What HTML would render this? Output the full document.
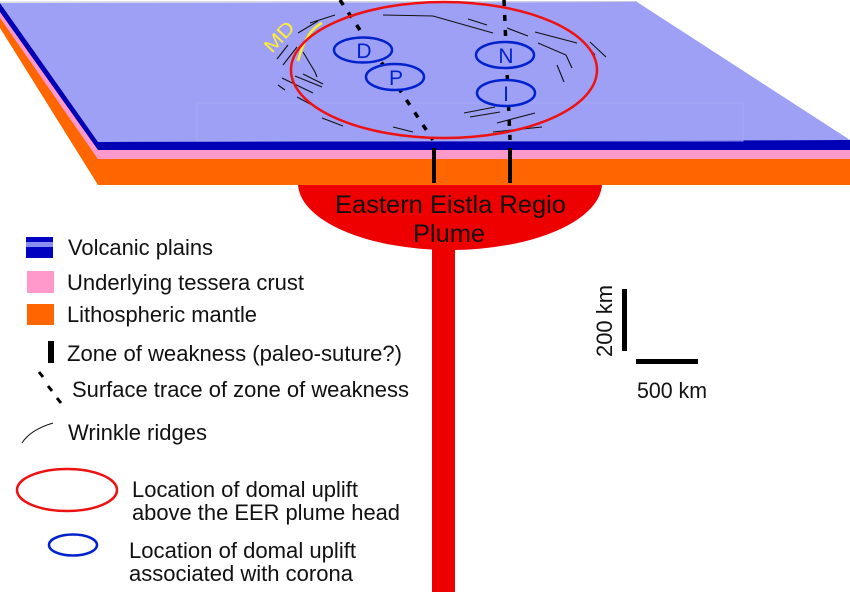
<!DOCTYPE html>
<html><head><meta charset="utf-8"><style>
html,body{margin:0;padding:0;background:#fff;}
svg{display:block;}
text{font-family:"Liberation Sans",Arial,sans-serif;fill:#111;}
</style></head><body>
<svg width="850" height="592" viewBox="0 0 850 592" xmlns="http://www.w3.org/2000/svg">
<!-- plume -->
<rect x="432" y="230" width="23" height="362" fill="#ee0000"/>
<ellipse cx="450" cy="183" rx="152" ry="67" fill="#ee0000"/>
<!-- slab: orange -->
<polygon points="0,17 98,159 850,159 850,185 98,185 0,28" fill="#ff6600"/>
<!-- pink -->
<polygon points="0,11 98,150 850,150 850,159 98,159 0,18" fill="#ff99cc"/>
<!-- blue -->
<polygon points="0,3 98,141 850,140 850,150 98,150 0,12" fill="#0000b4"/>
<!-- top face -->
<polygon points="0,3 637,2 850,140 98,142" fill="#9da0f5"/>
<line x1="0" y1="2" x2="637" y2="1.5" stroke="#c8c8d8" stroke-width="1"/>
<rect x="197" y="103" width="546" height="38" fill="none" stroke="#a9acf7" stroke-width="0.8"/>

<!-- dashed surface traces -->
<line x1="340" y1="0" x2="433" y2="140" stroke="#000" stroke-width="3.5" stroke-dasharray="6,9"/>
<line x1="504" y1="0" x2="510" y2="140" stroke="#000" stroke-width="3.5" stroke-dasharray="6,9"/>

<!-- wrinkle ridges -->
<g stroke="#111" stroke-width="1.1" fill="none">
<path d="M298,33 L318,21"/>
<path d="M310,23 L335,15"/>
<path d="M277,59 L288,45"/>
<path d="M283,65 L297,47"/>
<path d="M303,52 L312,67 L315,72 L317,77"/>
<path d="M282,78 L313,93"/>
<path d="M295,76 L322,87"/>
<path d="M303,74 L323,84"/>
<path d="M278,85 L285,90"/>
<path d="M297,97 L312,105"/>
<path d="M322,118 L343,126"/>
<path d="M383,15 L433,16 L493,33"/>
<path d="M468,19 L487,25"/>
<path d="M507,28 L528,36"/>
<path d="M535,32 L577,43"/>
<path d="M538,43 L566,55 L572,68"/>
<path d="M557,65 L564,82"/>
<path d="M590,42 L606,57"/>
<path d="M588,47 L595,55"/>
<path d="M464,113 L495,107"/>
<path d="M470,117 L500,112"/>
<path d="M497,123 L535,113"/>
<path d="M493,132 L542,127"/>
<path d="M393,127 L413,132"/>
</g>

<!-- MD -->
<path d="M298,61 Q303,42 311,32 Q316,26 322,23" stroke="#ffee33" stroke-width="2.5" fill="none"/>
<text transform="translate(272,54) rotate(-47)" font-size="19" style="fill:#ffee33" textLength="35" lengthAdjust="spacingAndGlyphs">MD</text>

<!-- red ellipse -->
<ellipse cx="444" cy="70" rx="153" ry="68" fill="none" stroke="#ee1111" stroke-width="2.5"/>

<!-- blue ellipses -->
<g stroke="#0022cc" stroke-width="2.5" fill="#9da0f5">
<ellipse cx="363" cy="50" rx="29" ry="12.5"/>
<ellipse cx="395" cy="77" rx="29" ry="13"/>
<ellipse cx="505" cy="55" rx="29" ry="13"/>
<ellipse cx="506" cy="93" rx="29" ry="13"/>
</g>
<g font-size="21" text-anchor="middle">
<text x="364" y="58" style="fill:#0022cc">D</text>
<text x="396" y="85" style="fill:#0022cc">P</text>
<text x="506" y="63" style="fill:#0022cc">N</text>
<text x="506" y="101" style="fill:#0022cc">I</text>
</g>

<!-- zone of weakness verticals -->
<rect x="432" y="148" width="4" height="35" fill="#000"/>
<rect x="508" y="148" width="4" height="35" fill="#000"/>

<!-- plume label -->
<text x="335" y="213" font-size="25" textLength="231" lengthAdjust="spacingAndGlyphs">Eastern Eistla Regio</text>
<text x="413" y="242" font-size="25" textLength="72" lengthAdjust="spacingAndGlyphs">Plume</text>

<!-- legend -->
<rect x="26" y="237" width="27" height="21" fill="#0000c0"/>
<rect x="26" y="242" width="27" height="5" fill="#8a8cf0"/>
<text x="68" y="255" font-size="22.5" textLength="145" lengthAdjust="spacingAndGlyphs">Volcanic plains</text>

<rect x="27" y="271" width="27" height="22" fill="#ff99cc"/>
<text x="67" y="290" font-size="22.5" textLength="237" lengthAdjust="spacingAndGlyphs">Underlying tessera crust</text>

<rect x="27" y="304" width="27" height="21" fill="#ff6600"/>
<text x="67" y="322" font-size="22.5" textLength="190" lengthAdjust="spacingAndGlyphs">Lithospheric mantle</text>

<rect x="48" y="341" width="6" height="22" fill="#000"/>
<text x="67" y="361" font-size="22.5" textLength="335" lengthAdjust="spacingAndGlyphs">Zone of weakness (paleo-suture?)</text>

<g stroke="#000" stroke-width="3">
<line x1="39" y1="372" x2="43" y2="377"/>
<line x1="48" y1="386" x2="52" y2="391"/>
<line x1="57" y1="398" x2="61" y2="403"/>
</g>
<text x="72" y="397" font-size="22.5" textLength="337" lengthAdjust="spacingAndGlyphs">Surface trace of zone of weakness</text>

<path d="M22,443 Q30,430 53,423" stroke="#111" stroke-width="1" fill="none"/>
<text x="68" y="440" font-size="22.5" textLength="139" lengthAdjust="spacingAndGlyphs">Wrinkle ridges</text>

<ellipse cx="67" cy="490" rx="50" ry="21" fill="none" stroke="#ee1111" stroke-width="2.5"/>
<text x="132" y="497" font-size="22.5" textLength="226" lengthAdjust="spacingAndGlyphs">Location of domal uplift</text>
<text x="132" y="520" font-size="22.5" textLength="268" lengthAdjust="spacingAndGlyphs">above the EER plume head</text>

<ellipse cx="73" cy="545" rx="24" ry="10.5" fill="none" stroke="#0022cc" stroke-width="2.5"/>
<text x="129" y="558" font-size="22.5" textLength="227" lengthAdjust="spacingAndGlyphs">Location of domal uplift</text>
<text x="129" y="581" font-size="22.5" textLength="224" lengthAdjust="spacingAndGlyphs">associated with corona</text>

<!-- scale bars -->
<rect x="622" y="289" width="5" height="62" fill="#000"/>
<rect x="636" y="359" width="62" height="5" fill="#000"/>
<text transform="translate(612,357) rotate(-90)" font-size="22.5" textLength="72" lengthAdjust="spacingAndGlyphs">200 km</text>
<text x="637" y="398" font-size="22.5" textLength="70" lengthAdjust="spacingAndGlyphs">500 km</text>
</svg>
</body></html>
